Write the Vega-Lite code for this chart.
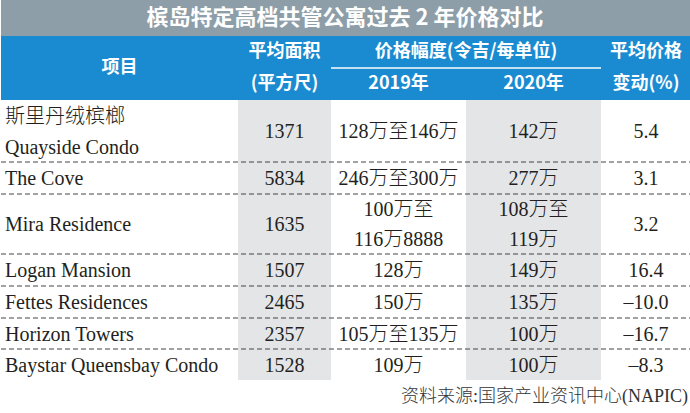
{
  "$schema": "https://vega.github.io/schema/vega-lite/v6.json",
  "width": 690,
  "height": 413,
  "autosize": {"type": "fit", "contains": "padding"},
  "padding": 0,
  "background": "white",
  "config": {"view": {"stroke": null}},
  "datasets": {
    "bands": [
      {"kind": "title", "c0": 0, "c1": 5, "r0": 0, "r1": 1},
      {"kind": "header", "c0": 0, "c1": 5, "r0": 1, "r1": 2},
      {"kind": "shade", "c0": 1, "c1": 2, "r0": 2, "r1": 9},
      {"kind": "shade", "c0": 3, "c1": 4, "r0": 2, "r1": 9}
    ],
    "dividers": [{"r": 3}, {"r": 4}, {"r": 5}, {"r": 6}, {"r": 7}, {"r": 8}],
    "underline": [{"r": 1.5, "c0": 2, "c1": 4}],
    "title": [{"text": "槟岛特定高档共管公寓过去 2 年价格对比", "r": 0.5}],
    "header": [
      {"text": "项目", "c": 0.5, "r": 1.5},
      {"text": "平均面积", "c": 1.5, "r": 1.25},
      {"text": "(平方尺)", "c": 1.5, "r": 1.75},
      {"text": "价格幅度(令吉/每单位)", "c": 3, "r": 1.25},
      {"text": "2019年", "c": 2.5, "r": 1.75},
      {"text": "2020年", "c": 3.5, "r": 1.75},
      {"text": "平均价格", "c": 4.5, "r": 1.25},
      {"text": "变动(%)", "c": 4.5, "r": 1.75}
    ],
    "labels": [
      {"text": "斯里丹绒槟榔", "r": 2.25},
      {"text": "Quayside Condo", "r": 2.75},
      {"text": "The Cove", "r": 3.5},
      {"text": "Mira Residence", "r": 4.5},
      {"text": "Logan Mansion", "r": 5.5},
      {"text": "Fettes Residences", "r": 6.5},
      {"text": "Horizon Towers", "r": 7.5},
      {"text": "Baystar Queensbay Condo", "r": 8.5}
    ],
    "cells": [
      {"text": "1371", "c": 1.5, "r": 2.5},
      {"text": "128万至146万", "c": 2.5, "r": 2.5},
      {"text": "142万", "c": 3.5, "r": 2.5},
      {"text": "5.4", "c": 4.5, "r": 2.5},
      {"text": "5834", "c": 1.5, "r": 3.5},
      {"text": "246万至300万", "c": 2.5, "r": 3.5},
      {"text": "277万", "c": 3.5, "r": 3.5},
      {"text": "3.1", "c": 4.5, "r": 3.5},
      {"text": "1635", "c": 1.5, "r": 4.5},
      {"text": "100万至", "c": 2.5, "r": 4.25},
      {"text": "116万8888", "c": 2.5, "r": 4.75},
      {"text": "108万至", "c": 3.5, "r": 4.25},
      {"text": "119万", "c": 3.5, "r": 4.75},
      {"text": "3.2", "c": 4.5, "r": 4.5},
      {"text": "1507", "c": 1.5, "r": 5.5},
      {"text": "128万", "c": 2.5, "r": 5.5},
      {"text": "149万", "c": 3.5, "r": 5.5},
      {"text": "16.4", "c": 4.5, "r": 5.5},
      {"text": "2465", "c": 1.5, "r": 6.5},
      {"text": "150万", "c": 2.5, "r": 6.5},
      {"text": "135万", "c": 3.5, "r": 6.5},
      {"text": "–10.0", "c": 4.5, "r": 6.5},
      {"text": "2357", "c": 1.5, "r": 7.5},
      {"text": "105万至135万", "c": 2.5, "r": 7.5},
      {"text": "100万", "c": 3.5, "r": 7.5},
      {"text": "–16.7", "c": 4.5, "r": 7.5},
      {"text": "1528", "c": 1.5, "r": 8.5},
      {"text": "109万", "c": 2.5, "r": 8.5},
      {"text": "100万", "c": 3.5, "r": 8.5},
      {"text": "–8.3", "c": 4.5, "r": 8.5}
    ],
    "source": [{"text": "资料来源:国家产业资讯中心(NAPIC)", "r": 9.5}]
  },
  "layer": [
    {
      "data": {"name": "bands"},
      "mark": {"type": "rect"},
      "encoding": {
        "x": {"field": "c0", "type": "quantitative", "axis": null,
              "scale": {"domain": [0, 1, 2, 3, 4, 5], "range": [0, 237, 330, 465, 600, 690], "nice": false, "zero": false}},
        "x2": {"field": "c1"},
        "y": {"field": "r0", "type": "quantitative", "axis": null,
              "scale": {"domain": [0, 1, 2, 3, 4, 5, 6, 7, 8, 9, 10], "range": [0, 36, 100, 162, 194, 254, 286, 318, 349, 380, 413], "nice": false, "zero": false}},
        "y2": {"field": "r1"},
        "color": {"field": "kind", "type": "nominal", "legend": null,
                  "scale": {"domain": ["title", "header", "shade"], "range": ["#8e9ea9", "#1b8bd1", "#e4e5e7"]}}
      }
    },
    {
      "data": {"name": "dividers"},
      "mark": {"type": "rule", "color": "#444444", "strokeWidth": 1, "strokeDash": [5, 3]},
      "encoding": {
        "x": {"datum": 0, "type": "quantitative"},
        "x2": {"datum": 5},
        "y": {"field": "r", "type": "quantitative"}
      }
    },
    {
      "data": {"name": "underline"},
      "mark": {"type": "rule", "color": "white", "strokeWidth": 1.5},
      "encoding": {
        "x": {"field": "c0", "type": "quantitative"},
        "x2": {"field": "c1"},
        "y": {"field": "r", "type": "quantitative"}
      }
    },
    {
      "data": {"name": "title"},
      "mark": {"type": "text", "font": "Noto Sans CJK SC", "fontWeight": "bold", "fontSize": 22, "color": "white", "align": "center", "baseline": "middle"},
      "encoding": {
        "x": {"value": {"expr": "width / 2"}},
        "y": {"field": "r", "type": "quantitative"},
        "text": {"field": "text"}
      }
    },
    {
      "data": {"name": "header"},
      "mark": {"type": "text", "font": "Noto Sans CJK SC", "fontWeight": "bold", "fontSize": 18, "color": "white", "align": "center", "baseline": "middle"},
      "encoding": {
        "x": {"field": "c", "type": "quantitative"},
        "y": {"field": "r", "type": "quantitative"},
        "text": {"field": "text"}
      }
    },
    {
      "data": {"name": "labels"},
      "mark": {"type": "text", "font": "Liberation Serif, Noto Sans CJK SC", "fontWeight": 300, "fontSize": 20, "color": "#231f20", "align": "left", "baseline": "middle", "dx": 4, "dy": 1},
      "encoding": {
        "x": {"datum": 0, "type": "quantitative"},
        "y": {"field": "r", "type": "quantitative"},
        "text": {"field": "text"}
      }
    },
    {
      "data": {"name": "cells"},
      "mark": {"type": "text", "font": "Liberation Serif, Noto Sans CJK SC", "fontWeight": 300, "fontSize": 20, "color": "#231f20", "align": "center", "baseline": "middle", "dy": 1},
      "encoding": {
        "x": {"field": "c", "type": "quantitative"},
        "y": {"field": "r", "type": "quantitative"},
        "text": {"field": "text"}
      }
    },
    {
      "data": {"name": "source"},
      "mark": {"type": "text", "font": "Liberation Serif, Noto Sans CJK SC", "fontWeight": 300, "fontSize": 18, "color": "#333333", "align": "right", "baseline": "middle", "dx": -3},
      "encoding": {
        "x": {"datum": 5, "type": "quantitative"},
        "y": {"field": "r", "type": "quantitative"},
        "text": {"field": "text"}
      }
    }
  ]
}
